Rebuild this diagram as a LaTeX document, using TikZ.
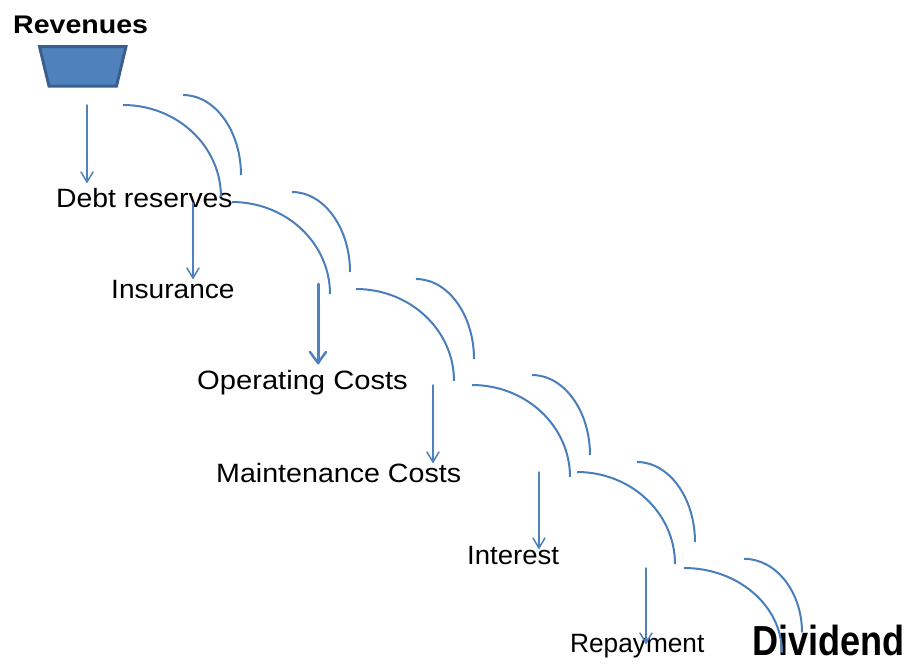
\documentclass[tikz,border=0pt]{standalone}
\usepackage{fontspec}
\setmainfont{Liberation Sans}
\usetikzlibrary{arrows.meta}
\definecolor{arccol}{HTML}{4A7EBB}
\definecolor{arrcol}{HTML}{4F81BD}
\definecolor{trapfill}{HTML}{4F81BD}
\definecolor{trapline}{HTML}{3A5F8E}
\newcommand{\lbl}[3]{\scalebox{#1}[1]{\fontsize{#2}{#2}\selectfont #3}}
\tikzset{
  lab/.style={inner sep=0pt, anchor=base west, text=black},
  arr/.style={draw=arrcol, line width=1.5pt, line cap=round, line join=round},
  arrthick/.style={draw=arrcol, line width=3pt, line cap=round, line join=round},
  arcline/.style={draw=arccol, line width=2pt},
  pair/.pic={
    \draw[arcline] (0,0) .. controls (54,0) and (98,41) .. (98,92);
    \draw[arcline] (60,-10) .. controls (92,-10) and (118,26) .. (118,70);
  }
}
\begin{document}
\begin{tikzpicture}[x=1pt,y=-1pt]
\useasboundingbox (0,0) rectangle (908,664);
% Revenues trapezoid
\filldraw[fill=trapfill, draw=trapline, line width=3pt, line join=miter]
  (39.5,46.5) -- (126,46.5) -- (116.5,86) -- (49,86) -- cycle;
% labels
\node[lab] (rev) at (13,33) {\lbl{1.12}{25.5}{\bfseries Revenues}};
\node[lab] (debt) at (56,207) {\lbl{1.07}{26.5}{Debt reserves}};
\node[lab] (ins) at (111,298) {\lbl{1.06}{26.5}{Insurance}};
\node[lab] (op) at (197,389) {\lbl{1.10}{26.5}{Operating Costs}};
\node[lab] (maint) at (216,482) {\lbl{1.08}{26.5}{Maintenance Costs}};
\node[lab] (int) at (467,564) {\lbl{1.04}{26.5}{Interest}};
\node[lab] (rep) at (570,652) {\lbl{0.99}{26.5}{Repayment}};
\node[lab] (div) at (752,655) {\lbl{0.86}{42}{\bfseries Dividend}};
% arrow endpoints
\coordinate (a1s) at (87,105);  \coordinate (a1e) at (87,182);
\coordinate (a2s) at (193,203); \coordinate (a2e) at (193,278);
\coordinate (a3s) at (318,284); \coordinate (a3e) at (318,363);
\coordinate (a4s) at (433,385); \coordinate (a4e) at (433,462);
\coordinate (a5s) at (539,472); \coordinate (a5e) at (539,548);
\coordinate (a6s) at (646,568); \coordinate (a6e) at (646,643);
\foreach \i in {1,2,4,5,6}{
  \draw[arr] (a\i s) -- (a\i e);
  \draw[arr] (a\i e) ++(-6,-10) -- (a\i e) -- ++(6,-10);
}
\draw[arrthick] (a3s) -- (a3e);
\draw[arrthick, line width=2.5pt] (a3e) ++(-8,-11) -- (a3e) -- ++(8,-11);
% arcs
\pic at (123,105) {pair};
\pic at (232,202) {pair};
\pic at (356,289) {pair};
\pic at (472,385) {pair};
\pic at (577,472) {pair};
\pic[yscale=0.92] at (684,568) {pair};
\end{tikzpicture}
\end{document}
